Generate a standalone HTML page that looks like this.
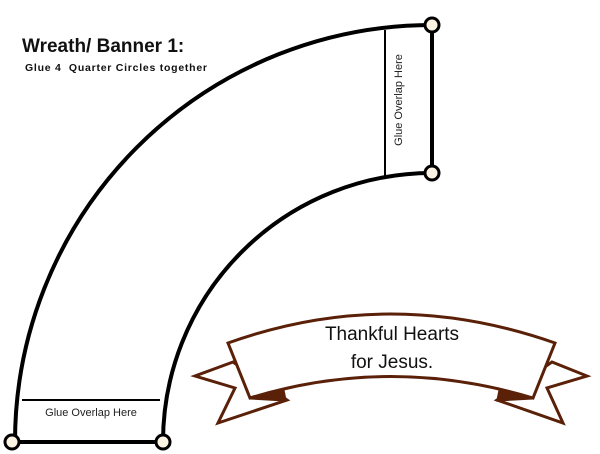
<!DOCTYPE html>
<html><head><style>
html,body{margin:0;padding:0;background:#fff;}
svg{display:block;}
</style></head><body>
<svg width="600" height="454" viewBox="0 0 600 454" xmlns="http://www.w3.org/2000/svg">
<g fill="none" stroke="#000" stroke-width="4">
<path d="M432 25 A417 417 0 0 0 15 442"/>
<path d="M432 173 A269 269 0 0 0 163 442"/>
<line x1="432" y1="25" x2="432" y2="173"/>
<line x1="12" y1="442" x2="163" y2="442"/>
</g>
<line x1="385" y1="30" x2="385" y2="176" stroke="#000" stroke-width="2"/>
<line x1="22" y1="400" x2="160" y2="400" stroke="#000" stroke-width="2"/>
<g fill="#fdf3e3" stroke="#000" stroke-width="3">
<circle cx="432" cy="25" r="7"/>
<circle cx="432" cy="173" r="7"/>
<circle cx="12" cy="442" r="7"/>
<circle cx="163" cy="442" r="7"/>
</g>
<text x="402" y="100" transform="rotate(-90 402 100)" text-anchor="middle" font-family="Liberation Sans, sans-serif" font-size="11" fill="#222">Glue Overlap Here</text>
<text x="91" y="416" text-anchor="middle" font-family="Liberation Sans, sans-serif" font-size="11" fill="#222">Glue Overlap Here</text>
<text x="22" y="52" font-family="Liberation Sans, sans-serif" font-weight="bold" font-size="19" fill="#111">Wreath/ Banner 1:</text>
<text x="25" y="71" font-family="Liberation Sans, sans-serif" font-weight="bold" font-size="10.5" fill="#111" xml:space="preserve" textLength="182">Glue 4  Quarter Circles together</text>
<g stroke="#5a2008" stroke-width="3" stroke-linejoin="miter" fill="#fff">
<path d="M233 362 L195 376 L235 388 L218 423 L287 400 Z"/>
<path d="M552 362 L587 376 L547 388 L563 423 L497 400 Z"/>
<path d="M250 398 L283 390 L285 400 Z" fill="#5a2008"/>
<path d="M533 398 L500 390 L498 400 Z" fill="#5a2008"/>
<path d="M228 343 Q390 285 555 343 L533 398 Q390 355 250 398 Z"/>
</g>
<text x="392" y="340" text-anchor="middle" font-family="Liberation Sans, sans-serif" font-size="19" fill="#111">Thankful Hearts</text>
<text x="392" y="368" text-anchor="middle" font-family="Liberation Sans, sans-serif" font-size="19" fill="#111">for Jesus.</text>
</svg>
</body></html>
